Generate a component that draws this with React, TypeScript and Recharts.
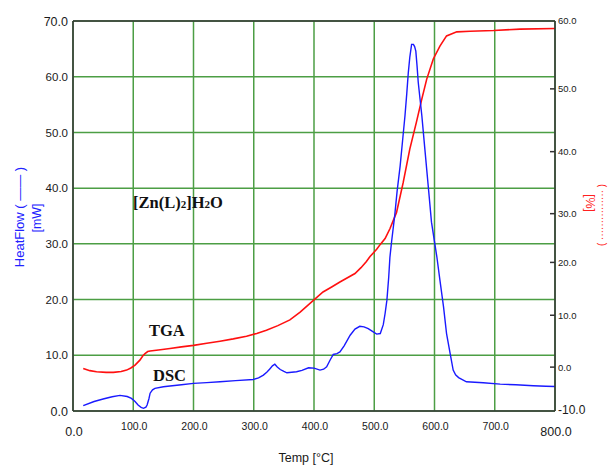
import React from 'react';
import { ComposedChart, Line, XAxis, YAxis, CartesianGrid, ReferenceLine } from 'recharts';

// DSC heat flow [mW] vs temperature [°C]
const dscTemp = [17, 35, 50, 65, 78, 90, 97, 103, 108, 113, 117, 121, 123, 126, 128, 132, 136, 150, 161, 180, 200, 222, 244, 270, 299, 308, 316, 322, 327, 331, 335, 339, 344, 350, 355, 363, 371, 380, 391, 400, 410, 416, 421, 427, 432, 438, 443, 450, 460, 468, 476, 483, 490, 497, 504, 510, 515, 518, 521, 524, 526, 529, 534, 538, 543, 547, 551, 554, 556.5, 559, 562, 565, 567, 569, 571, 573, 576, 579, 584, 590, 595, 601, 604, 609, 615, 620, 626, 631, 635, 640, 653, 667, 681, 709, 735, 764, 785, 800];
const dscHeat = [0.95, 1.7, 2.15, 2.55, 2.8, 2.6, 2.27, 1.7, 1.07, 0.65, 0.48, 0.7, 1.07, 2.2, 3.2, 3.8, 4.06, 4.35, 4.48, 4.7, 4.95, 5.1, 5.25, 5.45, 5.66, 5.95, 6.44, 7.0, 7.6, 8.1, 8.4, 7.9, 7.45, 7.1, 6.86, 6.95, 7.05, 7.3, 7.76, 7.7, 7.34, 7.5, 7.93, 9.2, 10.15, 10.3, 10.6, 11.7, 13.6, 14.7, 15.2, 15.1, 14.8, 14.3, 13.8, 13.9, 15.5, 17.5, 19.9, 24, 27.6, 30.6, 35.1, 39.5, 44, 48.5, 53, 57, 60.7, 63.5, 65.8, 65.8, 65.4, 64.6, 62, 59, 56, 53, 47, 39.9, 33.9, 29.7, 27.6, 23.5, 18.7, 13.9, 10.3, 7.34, 6.5, 6.0, 5.25, 5.15, 5.07, 4.83, 4.7, 4.53, 4.45, 4.4];

// TGA [%] vs temperature [°C]
const tgaTemp = [17, 28, 39, 55, 67, 80, 89, 96, 103, 111, 116, 119.5, 124, 128, 145, 161, 180, 200, 222, 244, 266, 288, 305, 321, 340, 360, 377, 399, 415, 430, 443, 468, 478, 487, 493, 504, 510, 518, 526, 537, 548, 559, 570, 579, 587, 598, 609, 620, 637, 659, 698, 742, 800];
const tgaMass = [-0.3, -0.8, -1.07, -1.2, -1.2, -1.0, -0.68, -0.2, 0.38, 1.35, 2.2, 2.6, 3.0, 3.1, 3.35, 3.6, 3.9, 4.2, 4.6, 5.0, 5.45, 5.96, 6.5, 7.1, 8.0, 9.1, 10.6, 12.8, 14.4, 15.4, 16.3, 17.9, 19.0, 20.2, 21.2, 22.7, 23.7, 24.9, 26.9, 30.2, 35.0, 40.4, 44.7, 48.4, 51.4, 54.4, 56.3, 57.8, 58.4, 58.5, 58.6, 58.8, 58.9];

const xTicks = [0, 100, 200, 300, 400, 500, 600, 700, 800];
const leftTicks = [0, 10, 20, 30, 40, 50, 60, 70];
const rightTicks = [-10, 0, 10, 20, 30, 40, 50, 60];
// the reference's right (TGA) axis is not evenly spaced: share of the axis height at each tick
const rightTickShare = [0, 0.1125, 0.2455, 0.381, 0.506, 0.665, 0.826, 1];

const dscData = dscTemp.map((t, i) => ({ t, v: dscHeat[i] }));
const tgaData = tgaTemp.map((t, i) => ({ t, v: tgaMass[i] }));

function piecewiseScale(knotV: number[], knotF: number[]): any {
  let dom: number[] = [knotV[0], knotV[knotV.length - 1]];
  let rng: number[] = [0, 1];
  const n = knotV.length;
  const frac = (v: number) => {
    if (!isFinite(v)) return NaN;
    if (v <= knotV[0]) return knotF[0] + ((v - knotV[0]) * (knotF[1] - knotF[0])) / (knotV[1] - knotV[0]);
    for (let i = 1; i < n; i++) {
      if (v <= knotV[i]) {
        const a = knotV[i - 1];
        const b = knotV[i];
        return knotF[i - 1] + ((v - a) / (b - a)) * (knotF[i] - knotF[i - 1]);
      }
    }
    return knotF[n - 1] + ((v - knotV[n - 1]) * (knotF[n - 1] - knotF[n - 2])) / (knotV[n - 1] - knotV[n - 2]);
  };
  const scale: any = (v: any) => {
    if (v === null || v === undefined) return NaN;
    return rng[0] + frac(Number(v)) * (rng[1] - rng[0]);
  };
  scale.domain = (d?: number[]) => {
    if (d === undefined) return dom.slice();
    dom = d.slice();
    return scale;
  };
  scale.range = (r?: number[]) => {
    if (r === undefined) return rng.slice();
    rng = r.slice();
    return scale;
  };
  scale.copy = () => piecewiseScale(knotV, knotF).domain(dom).range(rng);
  scale.ticks = () => knotV.slice();
  scale.tickFormat = () => (v: number) => String(v);
  scale.nice = () => scale;
  scale.clamp = () => scale;
  scale.invert = (p: number) => {
    const f = (p - rng[0]) / (rng[1] - rng[0]);
    for (let i = 1; i < n; i++) {
      if (f <= knotF[i] || i === n - 1) {
        return knotV[i - 1] + ((f - knotF[i - 1]) / (knotF[i] - knotF[i - 1])) * (knotV[i] - knotV[i - 1]);
      }
    }
    return NaN;
  };
  return scale;
}

const rightScale = piecewiseScale(rightTicks, rightTickShare);

const FONT = '"Liberation Sans", Arial, sans-serif';
const SERIF = '"Liberation Serif", "Times New Roman", serif';
const GRID = '#4c9e44';
const AXIS = '#333333';

const LeftTick = (props: any) => {
  const { x, y, payload } = props;
  const v = payload.value;
  const big = v === 70 || v === 0;
  return (
    <text x={x - 5} y={y} dy="0.36em" textAnchor="end" fontFamily={FONT} fontSize={big ? 12.5 : 11.5} fill="#1a1a1a">
      {v.toFixed(1)}
    </text>
  );
};

const BottomTick = (props: any) => {
  const { x, y, payload } = props;
  const v = payload.value;
  const edge = v === 0 || v === 800;
  return (
    <text x={x + 1} y={edge ? y + 20 : y + 15} dy="0.36em" textAnchor="middle" fontFamily={FONT} fontSize={edge ? 12.5 : 10.5} fill="#1a1a1a">
      {v.toFixed(1)}
    </text>
  );
};

const RightTick = (props: any) => {
  const { x, y, payload } = props;
  const v = payload.value;
  const size = v === -10 ? 12 : 9.5;
  return (
    <g>
      {v !== -10 && v !== 60 ? <line x1={x - 5} y1={y} x2={x} y2={y} stroke={AXIS} strokeWidth={1.5} /> : null}
      <text x={x + 3} y={v === -10 ? y - 1 : y} dy="0.36em" textAnchor="start" fontFamily={FONT} fontSize={size} fill="#1a1a1a">
        {v.toFixed(1)}
      </text>
    </g>
  );
};

export default function App() {
  return (
    <div style={{ position: 'absolute', left: 0, top: 0, width: 608, height: 466, background: '#ffffff' }}>
      <ComposedChart width={608} height={466} margin={{ top: 21, right: 0, bottom: 0, left: 0 }}>
        <CartesianGrid stroke={GRID} strokeWidth={1.5} />
        <XAxis
          type="number"
          dataKey="t"
          domain={[0, 800]}
          ticks={xTicks}
          allowDataOverflow
          height={55}
          tickSize={0}
          tickMargin={0}
          tickLine={false}
          axisLine={{ stroke: AXIS, strokeWidth: 1.5 }}
          tick={<BottomTick />}
          interval={0}
        />
        <YAxis
          yAxisId={0}
          type="number"
          domain={[0, 70]}
          ticks={leftTicks}
          allowDataOverflow
          width={73}
          tickSize={0}
          tickMargin={0}
          tickLine={false}
          axisLine={{ stroke: AXIS, strokeWidth: 1.5 }}
          tick={<LeftTick />}
          interval={0}
        />
        <YAxis
          yAxisId="r"
          orientation="right"
          type="number"
          scale={rightScale}
          domain={[-10, 60]}
          ticks={rightTicks}
          allowDataOverflow
          width={53}
          tickSize={0}
          tickMargin={0}
          tickLine={false}
          axisLine={{ stroke: AXIS, strokeWidth: 1.5 }}
          tick={<RightTick />}
          interval={0}
        />
        <ReferenceLine yAxisId={0} y={70} stroke={AXIS} strokeWidth={1.5} />
        <Line
          yAxisId="r"
          data={tgaData}
          dataKey="v"
          type="linear"
          stroke="#ff1010"
          strokeWidth={1.6}
          dot={false}
          isAnimationActive={false}
        />
        <Line
          yAxisId={0}
          data={dscData}
          dataKey="v"
          type="linear"
          stroke="#1a1aff"
          strokeWidth={1.4}
          dot={false}
          isAnimationActive={false}
        />
      </ComposedChart>
      <svg width={608} height={466} style={{ position: 'absolute', left: 0, top: 0, pointerEvents: 'none' }}>
        <text x={19} y={217} transform="rotate(-90 19 217)" textAnchor="middle" dominantBaseline="central" fontFamily={FONT} fontSize={13} fill="#2222ff">
          HeatFlow ( —— )
        </text>
        <text x={37} y={218} transform="rotate(-90 37 218)" textAnchor="middle" dominantBaseline="central" fontFamily={FONT} fontSize={12.5} fill="#2222ff">
          [mW]
        </text>
        <text x={590} y={203} transform="rotate(90 590 203)" textAnchor="middle" dominantBaseline="central" fontFamily={FONT} fontSize={12.5} fill="#ff2020">
          [%]
        </text>
        <text x={602} y={215} transform="rotate(90 602 215)" textAnchor="middle" dominantBaseline="central" fontFamily={FONT} fontSize={10} fill="#ff2020">
          ( ··············· )
        </text>
        <text x={306} y={458} textAnchor="middle" dominantBaseline="central" fontFamily={FONT} fontSize={12.5} fill="#1a1a1a">
          Temp [°C]
        </text>
        <text x={133} y={208} fontFamily={SERIF} fontWeight="bold" fontSize={16.5} fill="#111111">
          [Zn(L)<tspan fontSize={11}>2</tspan>]H<tspan fontSize={11}>2</tspan>O
        </text>
        <text x={149} y={336} fontFamily={SERIF} fontWeight="bold" fontSize={16.5} fill="#111111">
          TGA
        </text>
        <text x={153} y={381} fontFamily={SERIF} fontWeight="bold" fontSize={16.5} fill="#111111">
          DSC
        </text>
      </svg>
    </div>
  );
}
